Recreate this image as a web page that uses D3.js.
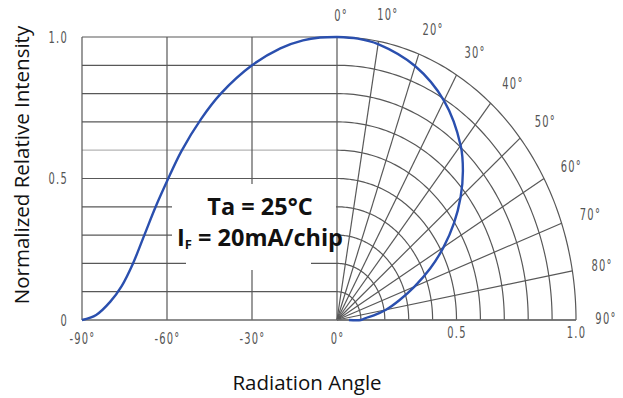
<!DOCTYPE html>
<html>
<head>
<meta charset="utf-8">
<script src="https://cdn.jsdelivr.net/npm/d3@7"></script>
<style>
  html, body { margin: 0; padding: 0; background: #fff; }
  svg { display: block; }
  .tick-lbl { font-family: "DejaVu Sans", sans-serif; fill: #555; font-size: 16px; letter-spacing: 2px; }
  .title { font-family: "Open Sans", sans-serif; font-size: 20.5px; fill: #111; }
  .note { font-family: "Open Sans", sans-serif; font-weight: bold; font-size: 23.5px; fill: #111; }
</style>
</head>
<body>
<svg id="chart" width="623" height="398"></svg>
<script>
// Cartesian half: relative intensity vs. angle, -90° .. 0°
const leftAngles    = [-90, -85, -80, -76, -72, -68, -64, -60, -55, -48, -41, -30, -20, -12, -6, 0];
const leftIntensity = [0, 0.018, 0.065, 0.12, 0.20, 0.30, 0.40, 0.49, 0.595, 0.71, 0.80, 0.90, 0.96, 0.988, 0.998, 1.0];

// Polar half: relative intensity vs. angle, 0° .. 90°
const polarAngles    = [0, 5, 10, 20, 30, 40, 45, 50, 55, 60, 65, 70, 75, 80, 84, 87, 90, 90];
const polarIntensity = [1.0, 0.998, 0.99, 0.955, 0.895, 0.805, 0.745, 0.675, 0.598, 0.515, 0.43, 0.345, 0.27, 0.208, 0.155, 0.118, 0.10, 0.05];

// Grid and tick definitions
const gridLevels      = [0.1, 0.2, 0.3, 0.4, 0.5, 0.6, 0.7, 0.8, 0.9, 1.0];
const radialAngles    = [0, 10, 20, 30, 40, 50, 60, 70, 80, 90];
const angleTickLabels = ["0°", "10°", "20°", "30°", "40°", "50°", "60°", "70°", "80°", "90°"];
const xGridAngles     = [-90, -60, -30];
const xTickAngles     = [-90, -60, -30, 0];
const xTickLabels     = ["-90°", "-60°", "-30°", "0°"];
const yTickValues     = [0, 0.5, 1.0];
const yTickLabels     = ["0", "0.5", "1.0"];
const rTickValues     = [0.5, 1.0];
const rTickLabels     = ["0.5", "1.0"];

const svg = d3.select("#chart");

const x  = d3.scaleLinear().domain([-90, 0]).range([82, 337]);
const y  = d3.scaleLinear().domain([0, 1]).range([320, 37]);
const rx = d3.scaleLinear().domain([0, 1]).range([0, 239]);   // horizontal radius of polar half
const rad = d => d * Math.PI / 180;
const narrow = 0.62;   // horizontal squeeze for the condensed tick lettering

// polar -> screen (the polar half is drawn with its own horizontal radius)
const px = (a, r) => x(0) + rx(r) * Math.sin(rad(a));
const py = (a, r) => y(r * Math.cos(rad(a)));

const gridColor = "#585858";
const grid = svg.append("g").attr("fill", "none").attr("stroke", gridColor).attr("stroke-width", 1.2);

// horizontal grid lines of the Cartesian half
grid.selectAll("line.h").data(gridLevels).join("line")
  .attr("class", "h")
  .attr("x1", x(-90)).attr("x2", x(0))
  .attr("y1", d => y(d)).attr("y2", d => y(d))
  .attr("stroke", d => d === 0.6 ? "#b5b5b5" : gridColor);

// vertical grid lines of the Cartesian half
grid.selectAll("line.v").data(xGridAngles).join("line")
  .attr("class", "v")
  .attr("x1", d => x(d)).attr("x2", d => x(d))
  .attr("y1", y(0)).attr("y2", y(1));

// concentric arcs of the polar half
const arcLine = d3.line().x(d => d[0]).y(d => d[1]);
const arcSteps = d3.range(0, 90.5, 1);
grid.selectAll("path.arc").data(gridLevels).join("path")
  .attr("class", "arc")
  .attr("d", r => arcLine(arcSteps.map(a => [px(a, r), py(a, r)])));

// radial spokes
grid.selectAll("line.spoke").data(radialAngles).join("line")
  .attr("class", "spoke")
  .attr("x1", px(0, 0)).attr("y1", py(0, 0))
  .attr("x2", a => px(a, 1)).attr("y2", a => py(a, 1));

// baseline across both halves
svg.append("line")
  .attr("x1", x(-90)).attr("x2", px(90, 1))
  .attr("y1", y(0)).attr("y2", y(0))
  .attr("stroke", "#6a6a6a").attr("stroke-width", 1.6);

// white panel behind the test-condition note
svg.append("rect").attr("x", 172).attr("y", 184).attr("width", 164).attr("height", 66).attr("fill", "#fff");
svg.append("rect").attr("x", 186).attr("y", 249).attr("width", 125).attr("height", 21).attr("fill", "#fff");

// intensity curves
const curveColor = "#2a4fae";
const leftData = leftAngles.map((a, i) => [x(a), y(leftIntensity[i])]);
svg.append("path")
  .attr("d", d3.line().curve(d3.curveCatmullRom.alpha(0.5))(leftData))
  .attr("fill", "none").attr("stroke", curveColor).attr("stroke-width", 2.4);

const polarData = polarAngles.map((a, i) => [px(a, polarIntensity[i]), py(a, polarIntensity[i])]);
svg.append("path")
  .attr("d", d3.line().curve(d3.curveCatmullRom.alpha(0.5))(polarData))
  .attr("fill", "none").attr("stroke", curveColor).attr("stroke-width", 2.4);

// squeeze tick text horizontally while keeping its anchor point
function condense(sel) {
  sel.attr("class", "tick-lbl").attr("fill", null).style("font-family", null).style("font-size", null)
    .attr("x", function () { return (+this.getAttribute("x") || 0) / narrow; })
    .attr("transform", `scale(${narrow},1)`);
}

// left axis labels
const yAxis = d3.axisLeft(y).tickValues(yTickValues).tickSize(0).tickPadding(14)
  .tickFormat((d, i) => yTickLabels[i]);
svg.append("g").attr("transform", `translate(${x(-90)},0)`).call(yAxis)
  .call(g => g.select(".domain").remove())
  .call(g => g.attr("font-family", null).attr("font-size", null))
  .selectAll("text").call(condense);

// bottom angle labels for the Cartesian half
const xAxis = d3.axisBottom(x).tickValues(xTickAngles).tickSize(0).tickPadding(13)
  .tickFormat((d, i) => xTickLabels[i]);
svg.append("g").attr("transform", `translate(0,${y(0)})`).call(xAxis)
  .call(g => g.select(".domain").remove())
  .call(g => g.attr("font-family", null).attr("font-size", null))
  .selectAll("text").call(condense);

// bottom radius labels for the polar half
const rAxisScale = d3.scaleLinear().domain([0, 1]).range([x(0), x(0) + rx(1)]);
const rAxis = d3.axisBottom(rAxisScale).tickValues(rTickValues).tickSize(0).tickPadding(7)
  .tickFormat((d, i) => rTickLabels[i]);
svg.append("g").attr("transform", `translate(0,${y(0)})`).call(rAxis)
  .call(g => g.select(".domain").remove())
  .call(g => g.attr("font-family", null).attr("font-size", null))
  .selectAll("text").call(condense);

// angle labels around the polar half, offset along the outward normal of the outer arc
const labelPos = a => {
  const nx = Math.sin(rad(a)) / rx(1), ny = Math.cos(rad(a)) / (y(0) - y(1));
  const n = Math.hypot(nx, ny);
  return [px(a, 1) + 26 * nx / n + 4, py(a, 1) - 26 * ny / n + (a === 0 ? 5 : -1)];
};
svg.append("g").selectAll("g").data(radialAngles).join("g")
  .attr("transform", a => `translate(${labelPos(a)[0]},${labelPos(a)[1]}) scale(${narrow},1)`)
  .append("text")
  .attr("class", "tick-lbl")
  .attr("text-anchor", "middle")
  .attr("dominant-baseline", "central")
  .text((a, i) => angleTickLabels[i]);

// axis titles
svg.append("text").attr("class", "title")
  .attr("text-anchor", "middle")
  .attr("transform", "translate(29,165) rotate(-90)")
  .text("Normalized Relative Intensity");

svg.append("text").attr("class", "title")
  .attr("text-anchor", "middle")
  .attr("x", 307).attr("y", 390)
  .text("Radiation Angle");

// test conditions
svg.append("text").attr("class", "note")
  .attr("text-anchor", "middle").attr("x", 260).attr("y", 215)
  .text("Ta = 25°C");

const note2 = svg.append("text").attr("class", "note")
  .attr("text-anchor", "middle").attr("x", 260).attr("y", 246);
note2.append("tspan").text("I");
note2.append("tspan").attr("font-size", 13).attr("dy", 3).text("F");
note2.append("tspan").attr("dy", -3).text(" = 20mA/chip");
</script>
</body>
</html>
